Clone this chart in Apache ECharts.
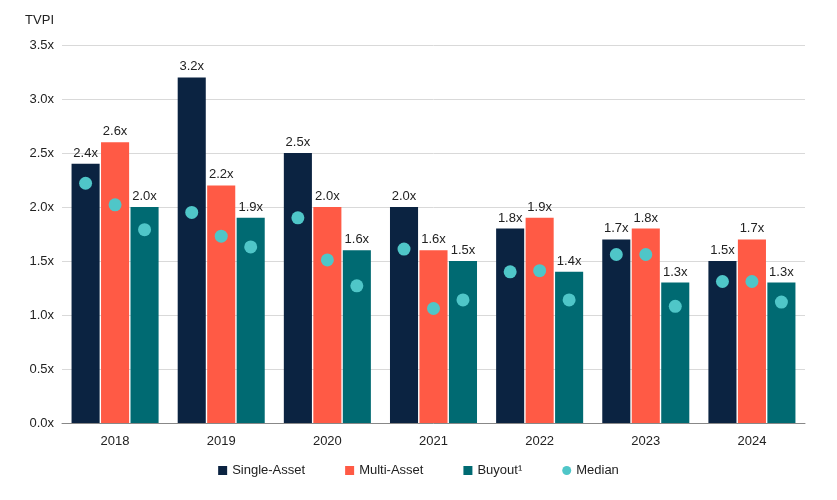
<!DOCTYPE html>
<html>
<head>
<meta charset="utf-8">
<script src="https://cdn.jsdelivr.net/npm/echarts@6/dist/echarts.min.js"></script>
<style>html,body{margin:0;background:#fff}#main{width:837px;height:500px}</style>
</head>
<body>
<div id="main"></div>
<script>
var years = ['2018', '2019', '2020', '2021', '2022', '2023', '2024'];
var singleAsset = [2.4, 3.2, 2.5, 2.0, 1.8, 1.7, 1.5];
var multiAsset = [2.6, 2.2, 2.0, 1.6, 1.9, 1.8, 1.7];
var buyout = [2.0, 1.9, 1.6, 1.5, 1.4, 1.3, 1.3];
var medianSingle = [2.22, 1.95, 1.90, 1.61, 1.40, 1.56, 1.31];
var medianMulti = [2.02, 1.73, 1.51, 1.06, 1.41, 1.56, 1.31];
var medianBuyout = [1.79, 1.63, 1.27, 1.14, 1.14, 1.08, 1.12];

var catGap = 0.18, barGap = 0.05;
var font = 'Liberation Sans';

var myChart = echarts.init(document.getElementById('main'));

var medianData = [];
[medianSingle, medianMulti, medianBuyout].forEach(function (arr, k) {
    arr.forEach(function (v, i) { medianData.push([i, v, k]); });
});

function barLabel() {
    return {
        show: true, position: 'top', distance: 4, color: '#222', fontSize: 13, fontFamily: font,
        formatter: function (p) { return p.value.toFixed(1) + 'x'; }
    };
}

var option = {
    textStyle: { fontFamily: font },
    grid: { left: 62, right: 32, top: 45, bottom: 77 },
    legend: {
        bottom: 18, left: 'center', itemWidth: 9, itemHeight: 9, itemGap: 40,
        textStyle: { fontSize: 13, color: '#222', fontFamily: font },
        data: [
            { name: 'Single-Asset', icon: 'rect' },
            { name: 'Multi-Asset', icon: 'rect' },
            { name: 'Buyout¹', icon: 'rect' },
            { name: 'Median', icon: 'circle', itemStyle: { color: '#4fc6c8' } }
        ]
    },
    xAxis: {
        type: 'category', data: years,
        axisLine: { lineStyle: { color: '#888' } },
        axisTick: { show: false },
        axisLabel: { color: '#222', fontSize: 13, margin: 12 }
    },
    yAxis: {
        type: 'value', min: 0, max: 3.5, interval: 0.5,
        name: 'TVPI', nameLocation: 'end', nameGap: 18,
        nameTextStyle: { color: '#222', fontSize: 13, align: 'right', padding: [0, 8, 0, 0] },
        axisLabel: { color: '#222', fontSize: 13, formatter: function (v) { return v.toFixed(1) + 'x'; } },
        splitLine: { lineStyle: { color: '#d9d9d9' } }
    },
    series: [
        { name: 'Single-Asset', type: 'bar', data: singleAsset, itemStyle: { color: '#0b2341' },
          barCategoryGap: (catGap * 100) + '%', barGap: (barGap * 100) + '%', label: barLabel() },
        { name: 'Multi-Asset', type: 'bar', data: multiAsset, itemStyle: { color: '#ff5a45' }, label: barLabel() },
        { name: 'Buyout¹', type: 'bar', data: buyout, itemStyle: { color: '#006a72' }, label: barLabel() },
        {
            name: 'Median', type: 'custom', data: medianData, itemStyle: { color: '#4fc6c8' },
            encode: { x: 0, y: 1 }, z: 10,
            renderItem: function (params, api) {
                var pt = api.coord([api.value(0), api.value(1)]);
                var catW = api.size([1, 0])[0];
                var bw = catW * (1 - catGap) / (3 + 2 * barGap);
                var k = api.value(2);
                return {
                    type: 'circle',
                    shape: { cx: pt[0] + (k - 1) * bw * (1 + barGap), cy: pt[1], r: 6.5 },
                    style: { fill: '#4fc6c8' }
                };
            }
        }
    ]
};
myChart.setOption(option);
</script>
</body>
</html>
